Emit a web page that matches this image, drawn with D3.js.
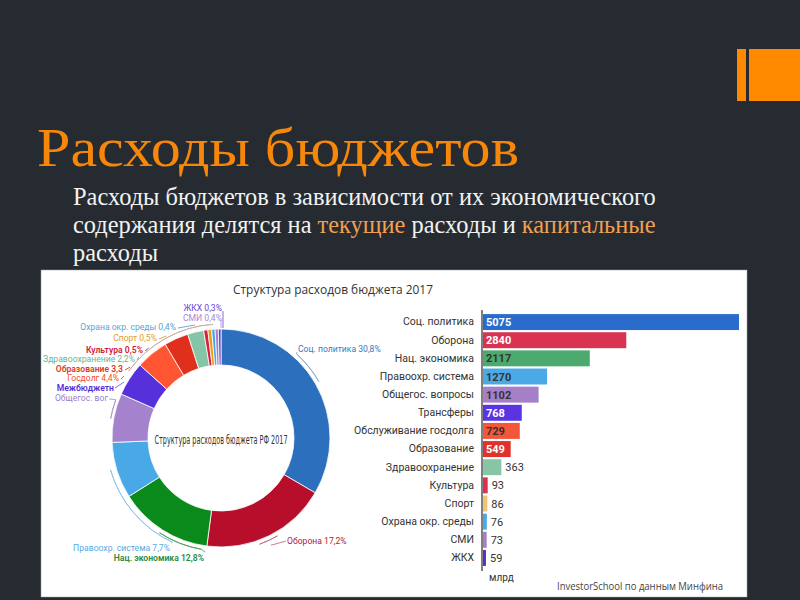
<!DOCTYPE html>
<html><head><meta charset="utf-8">
<script src="https://cdn.jsdelivr.net/npm/d3@7"></script>
<style>html,body{margin:0;padding:0;background:#252b31;}svg{display:block;}</style>
</head><body>
<svg id="c" width="800" height="600"></svg>
<script>
// ---- data ----
const categories = ["Соц. политика","Оборона","Нац. экономика","Правоохр. система","Общегос. вопросы","Трансферы","Обслуживание госдолга","Образование","Здравоохранение","Культура","Спорт","Охрана окр. среды","СМИ","ЖКХ"];
const values = [5075,2840,2117,1270,1102,768,729,549,363,93,86,76,73,59];
const donutLabels = ["Соц. политика 30,8%","Оборона 17,2%","Нац. экономика 12,8%","Правоохр. система 7,7%","Общегос. вог","Межбюджетн","Госдолг 4,4%","Образование 3,3","Здравоохранение 2,2%","Культура 0,5%","Спорт 0,5%","Охрана окр. среды 0,4%","СМИ 0,4%","ЖКХ 0,3%"];
const barColors = ["#2a6ccb","#d93351","#4caa6e","#4ba9e6","#a67fc9","#5a34e0","#f4563a","#e0312b","#88c4a6","#d8324f","#f0c472","#4ba9e6","#a67fc9","#5232c8"];
const donutColors = ["#2c6fbd","#b70e2c","#0b8a1c","#49a8e6","#a582cc","#5630db","#ff5533","#e0301d","#86c4a7","#d51f3d","#f29b1b","#49a8e6","#a582cc","#6040d0"];
const labelColors = ["#3a78c0","#b0203a","#2a8a3a","#5aaae0","#a080c8","#5530d8","#f05030","#d83a20","#5fb895","#d0203a","#e3a02a","#5ba3d6","#a888d8","#6a3fd0"];
const whiteValue = [true,true,false,false,false,true,false,true];

// ---- layout (not data) ----
const labelPos = [ // [x, y, anchor, bold]
  [298,349,"start",0],[287,541,"start",0],[204,558,"end",1],[170,548,"end",0],
  [108,398,"end",0],[114,388,"end",1],[119,378,"end",0],[123,369,"end",1],
  [135,359,"end",0],[143,350,"end",1],[157,338,"end",0],[176,327,"end",0],
  [222,318,"end",0],[222,308,"end",0]];

const serif = "'Liberation Serif','DejaVu Serif','Times New Roman',serif";
const svg = d3.select("#c");
svg.append("rect").attr("width",800).attr("height",600).attr("fill","#252b31");
// accent bars
svg.append("rect").attr("x",737).attr("y",49).attr("width",9).attr("height",52).attr("fill","#ff8a00");
svg.append("rect").attr("x",749).attr("y",49).attr("width",51).attr("height",52).attr("fill","#ff8a00");

svg.append("text").attr("x",37).attr("y",166).style("font-family",serif)
  .attr("font-size",54).attr("fill","#f7870a").attr("textLength",482).attr("lengthAdjust","spacingAndGlyphs")
  .text("Расходы бюджетов");

const fs = 22;
const t1 = svg.append("text").attr("x",73).attr("y",205).style("font-family",serif).attr("font-size",fs).attr("fill","#f2f2f2")
  .text("Расходы бюджетов в зависимости от их экономического");
const l2 = svg.append("text").attr("x",73).attr("y",233).style("font-family",serif).attr("font-size",fs).attr("fill","#f2f2f2");
l2.append("tspan").text("содержания делятся на ");
l2.append("tspan").attr("fill","#f0a050").text("текущие");
l2.append("tspan").text(" расходы и ");
l2.append("tspan").attr("fill","#f0a050").text("капитальные");
const t3 = svg.append("text").attr("x",73).attr("y",261).style("font-family",serif).attr("font-size",fs).attr("fill","#f2f2f2")
  .text("расходы");
const w1 = t1.node().getComputedTextLength(), w2 = l2.node().getComputedTextLength();
const fsAdj = Math.min(fs*583/w1, fs*585/w2);
[t1,l2,t3].forEach(t=>t.attr("font-size",fsAdj));

// panel
svg.append("rect").attr("x",41).attr("y",270).attr("width",706).attr("height",327).attr("fill","#ffffff").attr("stroke","#9aa0a6").attr("stroke-width",0.5);

const sans = "Roboto,'Noto Sans',Arial,sans-serif";
svg.append("text").attr("x",233).attr("y",294).attr("font-family","'Open Sans',"+sans).attr("font-size",12.5).attr("fill","#333")
  .attr("textLength",200).attr("lengthAdjust","spacingAndGlyphs").text("Структура расходов бюджета 2017");

// ---- donut ----
const cx=221, cy=438, R=109, r0=73;
const g = svg.append("g").attr("transform",`translate(${cx},${cy})`);
const pie = d3.pie().sort(null).value(d=>d);
const arcs = pie(values);
const arc = d3.arc().innerRadius(r0).outerRadius(R);
g.selectAll("path.seg").data(arcs).join("path").attr("class","seg").attr("d",arc)
  .attr("fill",(d,i)=>donutColors[i]).attr("stroke","#fff").attr("stroke-width",0.8);

g.append("text").attr("x",0).attr("y",6).attr("text-anchor","middle")
  .attr("font-family","'Liberation Sans Narrow','DejaVu Sans Condensed',"+sans).attr("font-size",11.5).attr("fill","#333")
  .attr("textLength",133).attr("lengthAdjust","spacingAndGlyphs").text("Структура расходов бюджета РФ 2017");

// brackets
const deg = Math.PI/180;
const bracket = (a0,a1,rr,col) => g.append("path")
  .attr("d", d3.arc().innerRadius(rr).outerRadius(rr).startAngle(a0*deg).endAngle(a1*deg)())
  .attr("fill","none").attr("stroke",col).attr("stroke-width",0.9);
const pt = (a,rr)=>[rr*Math.sin(a*deg), -rr*Math.cos(a*deg)];
const line = (pts,col)=> svg.append("path").attr("d",d3.line()(pts)).attr("fill","none").attr("stroke",col).attr("stroke-width",0.9);

bracket(42,60,113,"#8aa8cc"); // соц
line([[297,352],[cx+pt(42,113)[0],cy+pt(42,113)[1]]],"#8aa8cc");
bracket(150,160,113,"#c07080"); // оборона
line([[286,541],[cx+pt(156,113)[0]+4,cy+pt(156,113)[1]+4]],"#c07080");
bracket(190,213,113,"#50a060"); // нац
line([[cx+pt(190,113)[0],cy+pt(190,113)[1]],[205,552]],"#50a060");
bracket(205,254,115,"#8ac4e8"); // правоохр
line([[cx+pt(205,115)[0],cy+pt(205,115)[1]],[171,543]],"#8ac4e8");
bracket(280,290,112,"#b09ad0"); // общегос
line([[109,399],[cx+pt(290,112)[0],cy+pt(290,112)[1]]],"#b09ad0");
line([[115,388],[cx+pt(300,112)[0],cy+pt(300,112)[1]]],"#7a60d8"); // межбюджет
bracket(306,356,114,"#c8b0a0"); // small segments
[6,7,8,9,10,11].forEach(i=>{
  const [x,y]=labelPos[i];
  const xx = cx - Math.sqrt(114*114-(y-cy)*(y-cy));
  line([[x+2,y+1],[xx,y-2]], labelColors[i]);
});
line([[223,311],[223,328]],"#7a5ad8");
line([[221,320],[221,328]],"#b09ad8");

svg.append("g").selectAll("text").data(donutLabels).join("text")
  .attr("x",(d,i)=>labelPos[i][0]).attr("y",(d,i)=>labelPos[i][1]+3)
  .attr("text-anchor",(d,i)=>labelPos[i][2]).attr("font-weight",(d,i)=>labelPos[i][3]?600:400)
  .attr("font-family",sans).attr("font-size",8.6).attr("fill",(d,i)=>labelColors[i]).text(d=>d);

// ---- bars ----
const x = d3.scaleLinear().domain([0, d3.max(values)]).range([483, 739]);
const y = d3.scaleBand().domain(categories).range([313, 567]).paddingInner(0.12).paddingOuter(0.06);
svg.append("g").selectAll("rect").data(values).join("rect")
  .attr("x",x(0)).attr("y",(d,i)=>y(categories[i])).attr("width",d=>x(d)-x(0)).attr("height",y.bandwidth())
  .attr("fill",(d,i)=>barColors[i]);
const ax = svg.append("g").attr("transform",`translate(${x(0)-1},0)`).call(d3.axisLeft(y).tickSize(0).tickPadding(8));
ax.select(".domain").attr("stroke","#555").attr("stroke-width",1.5).attr("d","M0,310V571");
ax.selectAll("text").attr("font-family",sans).attr("font-size",10.5).attr("fill","#333");

svg.append("g").selectAll("text").data(values).join("text")
  .attr("x",(d,i)=> i<8 ? x(0)+3 : x(d)+4)
  .attr("y",(d,i)=>y(categories[i])+y.bandwidth()/2+4)
  .attr("font-family",sans).attr("font-size",11).attr("font-weight",(d,i)=> i<8 ? 700 : 400)
  .attr("fill",(d,i)=> i<8 ? (whiteValue[i] ? "#fff" : "#333") : "#333").text(d=>d);

svg.append("text").attr("x",489).attr("y",581).attr("font-family",sans).attr("font-size",10).attr("fill","#333").text("млрд");
svg.append("text").attr("x",557).attr("y",590).attr("font-family","'Open Sans',"+sans).attr("font-size",10.5).attr("fill","#444")
  .attr("textLength",166).attr("lengthAdjust","spacingAndGlyphs").text("InvestorSchool по данным Минфина");
</script>
</body></html>
